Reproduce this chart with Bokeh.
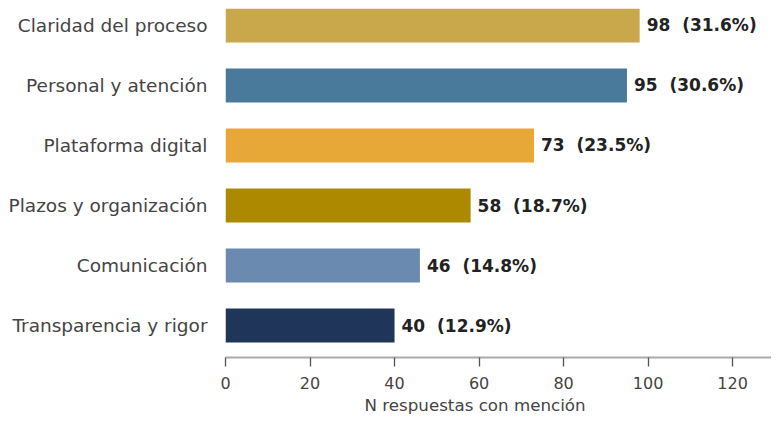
from bokeh.plotting import figure
from bokeh.models import Range1d, FixedTicker, ColumnDataSource, Title
from bokeh.core.properties import value
from bokeh.embed import file_html
from bokeh.resources import INLINE

categories = ["Claridad del proceso", "Personal y atención", "Plataforma digital",
              "Plazos y organización", "Comunicación", "Transparencia y rigor"]
counts = [98, 95, 73, 58, 46, 40]
percents = [31.6, 30.6, 23.5, 18.7, 14.8, 12.9]
colors = ["#C9A84B", "#4A7A9B", "#E8A838", "#AD8900", "#6B8AB0", "#1F3559"]
x_ticks = [0, 20, 40, 60, 80, 100, 120]
x_title = "N respuestas con mención"

n = len(categories)
ypos = [n - 1 - i for i in range(n)]
# non-breaking space keeps the double gap visible in SVG text
labels = [f"{c} \u00a0({p:.1f}%)" for c, p in zip(counts, percents)]

src = ColumnDataSource(dict(y=ypos, count=counts, color=colors, label=labels))

FONT = "DejaVu Sans"
p = figure(width=771, height=415, output_backend="svg", toolbar_location=None,
           x_range=Range1d(0, 129.2), y_range=Range1d(-0.5333, 5.2833),
           min_border_left=225, min_border_right=0, min_border_top=8, min_border_bottom=58)
p.outline_line_color = None
p.grid.grid_line_color = None
p.background_fill_color = "white"
p.border_fill_color = "white"

p.hbar(y="y", right="count", left=0, height=0.567, color="color", line_color=None, source=src)
p.text(x="count", y="y", text="label", source=src, x_offset=7,
       text_baseline="middle", text_align="left", text_font=value(FONT),
       text_font_size="17px", text_font_style="bold", text_color="#222222")

# y axis
ya = p.yaxis[0]
ya.ticker = FixedTicker(ticks=ypos)
ya.major_label_overrides = {y: c for y, c in zip(ypos, categories)}
ya.axis_line_color = None
ya.major_tick_line_color = None
ya.minor_tick_line_color = None
ya.major_tick_out = 0
ya.major_tick_in = 0
ya.major_label_standoff = 18
ya.major_label_text_font = FONT
ya.major_label_text_font_size = "18.5px"
ya.major_label_text_color = "#444444"

# x axis
xa = p.xaxis[0]
xa.ticker = FixedTicker(ticks=x_ticks)
xa.axis_line_color = "#aaaaaa"
xa.axis_line_width = 2
xa.major_tick_line_color = "#555555"
xa.major_tick_line_width = 1.3
xa.major_tick_out = 9
xa.major_tick_in = 0
xa.minor_tick_line_color = None
xa.major_label_standoff = 10
xa.major_label_text_font = FONT
xa.major_label_text_font_size = "16px"
xa.major_label_text_color = "#444444"

# x axis title, placed below the axis where the reference puts it
t = Title(text=x_title, align="left", offset=139, standoff=2,
          text_font=FONT, text_font_size="16.7px", text_font_style="normal",
          text_color="#444444")
p.add_layout(t, "below")

open("out.html", "w").write(file_html(p, INLINE))
